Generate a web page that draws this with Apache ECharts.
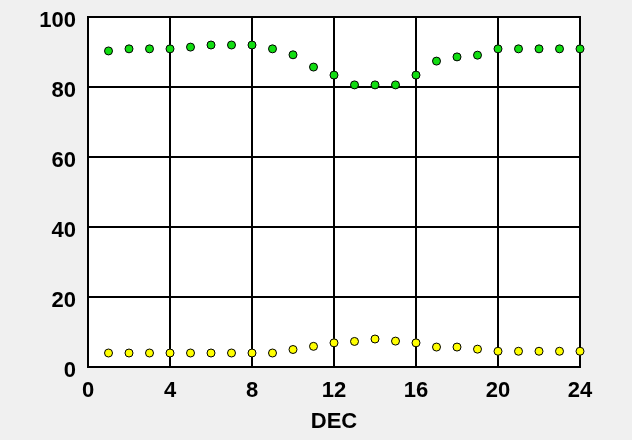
<!DOCTYPE html>
<html>
<head>
<meta charset="utf-8">
<script src="https://cdn.jsdelivr.net/npm/echarts@6/dist/echarts.min.js"></script>
<style>html,body{margin:0;padding:0;background:#f0f0f0;}#c{width:632px;height:440px;}</style>
</head>
<body>
<div id="c"></div>
<script>
const days = [1,2,3,4,5,6,7,8,9,10,11,12,13,14,15,16,17,18,19,20,21,22,23,24];
const greenValues = [90.3,90.9,90.9,90.9,91.4,92.0,92.0,92.0,90.9,89.2,85.7,83.4,80.6,80.6,80.6,83.4,87.4,88.6,89.1,90.9,90.9,90.9,90.9,90.9];
const yellowValues = [4.0,4.0,4.0,4.0,4.0,4.0,4.0,4.0,4.0,5.0,5.9,6.9,7.3,8.0,7.4,6.9,5.7,5.7,5.1,4.5,4.5,4.5,4.5,4.5];
const xLabel = 'DEC';

const chart = echarts.init(document.getElementById('c'), null, {renderer:'canvas'});
const font = {fontFamily:'Liberation Sans, Arial, sans-serif', fontWeight:'bold', fontSize:22, color:'#000'};
chart.setOption({
  backgroundColor:'#f0f0f0',
  animation:false,
  grid:{left:88,right:52,top:17,bottom:73,show:true,backgroundColor:'#fff',borderColor:'#000',borderWidth:2},
  xAxis:{type:'value',min:0,max:24,interval:4,
    name:xLabel,nameLocation:'middle',nameGap:44,nameTextStyle:font,
    axisLine:{show:false},axisTick:{show:false},
    axisLabel:Object.assign({margin:13},font),
    splitLine:{show:true,lineStyle:{color:'#000',width:2}}},
  yAxis:{type:'value',min:0,max:100,interval:20,
    axisLine:{show:false},axisTick:{show:false},
    axisLabel:Object.assign({margin:12,formatter:v=>'{a|'+v+'}',
      rich:{a:Object.assign({padding:[8,0,0,0]},font)}},font),
    splitLine:{show:true,lineStyle:{color:'#000',width:2}}},
  series:[
    {type:'scatter',data:days.map((d,i)=>[d,greenValues[i]]),symbolSize:8,
     itemStyle:{color:'#11dd11',borderColor:'#000',borderWidth:1,opacity:1}},
    {type:'scatter',data:days.map((d,i)=>[d,yellowValues[i]]),symbolSize:8,
     itemStyle:{color:'#ffff00',borderColor:'#000',borderWidth:1,opacity:1}}
  ]
});
</script>
</body>
</html>
